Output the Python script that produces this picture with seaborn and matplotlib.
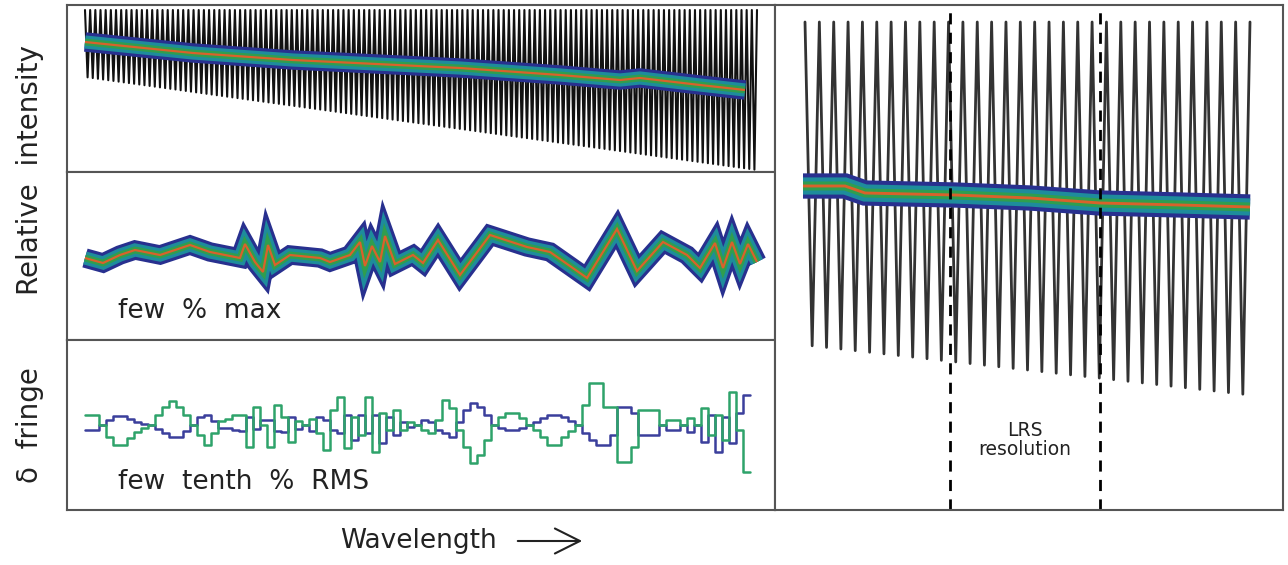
import numpy as np
import pandas as pd
import matplotlib
matplotlib.use("Agg")
import matplotlib.pyplot as plt
import seaborn as sns

# ---------------- data ----------------
# top-left panel: fringed spectrum envelope (wavelength, relative intensity)
fringe_wl = [18, 690]
fringe_hi = [162, 162]
fringe_lo = [95, 2]
n_fringe_left = 130
# defringed continuum in top-left panel
cont_wl = [18, 126, 226, 393, 493, 553, 573, 633, 678]
cont_val = [130, 119, 112, 104, 97, 92, 94, 87, 82]

# middle-left panel: residual after defringing ("few % max")
resid_wl = [18, 36, 53, 68, 93, 123, 143, 173, 178, 188, 196, 201, 208, 223, 253,
            263, 283, 293, 298, 305, 313, 318, 328, 346, 356, 371, 393, 423, 460,
            483, 520, 550, 570, 596, 620, 633, 648, 656, 665, 673, 681, 690]
resid_val = [82, 77, 85, 90, 85, 95, 88, 82, 96, 78, 68, 95, 75, 85, 82,
             78, 85, 98, 74, 94, 78, 104, 76, 85, 77, 100, 65, 105, 93,
             88, 62, 111, 69, 98, 85, 72, 97, 72, 98, 76, 96, 78]

# bottom-left panel: delta fringe, two solutions (step bins of equal width)
delta_start = 18
delta_bin = 7
delta_green = [10, 10, 0, -12, -20, -20, -13, -7, -3, 0,
               10, 18, 24, 18, 10, 0, -10, -20, -8, 4,
               6, 10, 10, -22, 18, 0, -22, 20, 8, -17,
               4, 0, 6, -8, -25, 15, 28, -23, 8, -10,
               28, -27, 12, -5, 15, -5, 3, 0, -5, -8,
               5, 25, 17, -5, -22, -38, -30, -15, 0, 8,
               12, 12, 7, 0, -5, -12, -20, -20, -12, -6,
               0, 20, 42, 42, 18, 18, -37, -37, -22, 15,
               15, 15, 0, 5, 5, 0, 7, 0, 17, -10,
               10, -15, 33, -5, -47]
delta_blue = [-5, -5, 0, 5, 9, 9, 6, 3, 1, 0,
              -4, -8, -12, -12, -6, 0, 8, 10, 4, -3,
              -3, -5, -6, 8, -4, 5, 5, -6, -7, 8,
              -4, 0, -6, 8, 5, -5, -8, 10, -15, 10,
              -8, 10, -18, 8, -10, 3, -2, 0, 5, 3,
              -5, -8, -12, 3, 15, 22, 18, 10, 0, -3,
              -5, -5, -3, 0, 3, 7, 10, 10, 8, 4,
              0, -8, -15, -20, -20, -10, 18, 18, 12, -10,
              -10, -10, 0, -5, -5, 0, -7, 0, -17, 10,
              -27, 8, -18, 12, 30]

# right panel: zoom on fringes
rfringe_wl = [30, 475]
rfringe_hi = [488, 488]
rfringe_lo = [165, 115]
n_fringe_right = 31
rcont_wl = [28, 70, 90, 180, 255, 325, 405, 475]
rcont_val = [324, 324, 317, 315, 312, 307, 305, 303]
lrs_res_wl = [175, 325]

# ---------------- style ----------------
sns.set_theme(style="white")
plt.rcParams["font.family"] = ["DejaVu Sans"]
TXT = "#222222"
SPINE = "#555555"
band_layers = [("#28308f", 14), ("#1e8c9c", 9.5), ("#2f9e4f", 5), ("#d9622b", 1.6)]

W, H = 1288, 565
fig = plt.figure(figsize=(W / 100, H / 100), dpi=100)


def ax_px(x0, y0, x1, y1):
    return fig.add_axes([x0 / W, 1 - y1 / H, (x1 - x0) / W, (y1 - y0) / H])


ax_top = ax_px(67, 5, 775, 172)
ax_mid = ax_px(67, 172, 775, 340)
ax_bot = ax_px(67, 340, 775, 510)
ax_r = ax_px(775, 5, 1283, 510)


def zigzag(wl, hi, lo, n):
    xs = np.linspace(wl[0], wl[-1], 2 * n + 1)
    h = np.interp(xs, wl, hi)
    l = np.interp(xs, wl, lo)
    ys = np.where(np.arange(xs.size) % 2 == 0, h, l)
    return pd.DataFrame({"wl": xs, "val": ys})


def band(ax, x, y, scale=1.0):
    df = pd.DataFrame({"wl": x, "val": y})
    for col, lw in band_layers:
        sns.lineplot(data=df, x="wl", y="val", ax=ax, color=col, lw=lw * scale,
                     sort=False, estimator=None, solid_joinstyle="miter",
                     solid_capstyle="butt")


# top-left
sns.lineplot(data=zigzag(fringe_wl, fringe_hi, fringe_lo, n_fringe_left), x="wl", y="val",
             ax=ax_top, color="#111111", lw=1.5, sort=False, estimator=None)
band(ax_top, cont_wl, cont_val)
ax_top.set_xlim(0, 708)
ax_top.set_ylim(0, 167)

# middle-left
band(ax_mid, resid_wl, resid_val)
ax_mid.set_xlim(0, 708)
ax_mid.set_ylim(0, 168)

# bottom-left
edges = delta_start + delta_bin * np.arange(len(delta_green) + 1)
dfg = pd.DataFrame({"wl": edges, "val": delta_green + [delta_green[-1]]})
dfb = pd.DataFrame({"wl": edges, "val": delta_blue + [delta_blue[-1]]})
sns.lineplot(data=dfb, x="wl", y="val", ax=ax_bot, color="#3b3f9c", lw=1.8,
             drawstyle="steps-post", sort=False, estimator=None)
sns.lineplot(data=dfg, x="wl", y="val", ax=ax_bot, color="#2ea36a", lw=1.8,
             drawstyle="steps-post", sort=False, estimator=None)
ax_bot.set_xlim(0, 708)
ax_bot.set_ylim(-85, 85)

# right
sns.lineplot(data=zigzag(rfringe_wl, rfringe_hi, rfringe_lo, n_fringe_right), x="wl", y="val",
             ax=ax_r, color="#333333", lw=2.0, sort=False, estimator=None)
band(ax_r, rcont_wl, rcont_val, scale=1.3)
for xv in lrs_res_wl:
    ax_r.axvline(xv, color="black", lw=2, ls=(0, (4, 3)))
ax_r.set_xlim(0, 508)
ax_r.set_ylim(0, 505)
ax_r.text(250, 70, "LRS\nresolution", ha="center", va="center", fontsize=13.5,
          color=TXT, linespacing=1.05)

for ax in (ax_top, ax_mid, ax_bot, ax_r):
    ax.set_xticks([])
    ax.set_yticks([])
    ax.set_xlabel("")
    ax.set_ylabel("")
    for s in ax.spines.values():
        s.set_color(SPINE)
        s.set_linewidth(1.5)
        s.set_visible(True)

# annotations
fig.text(118 / W, 1 - 311 / H, "few  %  max", fontsize=19, color=TXT, va="center", ha="left")
fig.text(118 / W, 1 - 482 / H, "few  tenth  %  RMS", fontsize=19, color=TXT, va="center", ha="left")
fig.text(30 / W, 1 - 170 / H, "Relative  intensity", fontsize=20, color=TXT, rotation=90,
         va="center", ha="center")
fig.text(30 / W, 1 - 425 / H, "δ  fringe", fontsize=20, color=TXT, rotation=90,
         va="center", ha="center")
fig.text(340 / W, 1 - 541 / H, "Wavelength", fontsize=19, color=TXT, va="center", ha="left")
fig.add_artist(matplotlib.patches.FancyArrowPatch(
    (515 / W, 1 - 541 / H), (585 / W, 1 - 541 / H), transform=fig.transFigure,
    arrowstyle="->,head_length=0.9,head_width=0.45", mutation_scale=20, lw=1.5, color=TXT))

fig.savefig("out.png", dpi=100)
